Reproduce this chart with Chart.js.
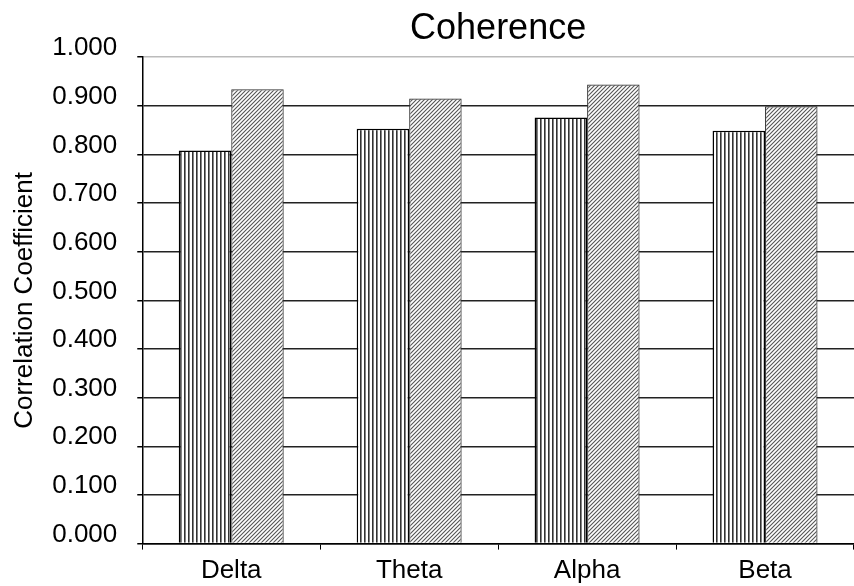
<!DOCTYPE html>
<html>
<head>
<meta charset="utf-8">
<script src="https://cdn.jsdelivr.net/npm/chart.js@4"></script>
<style>
  html, body { margin: 0; padding: 0; background: #fff; }
  #wrap { width: 854px; height: 586px; position: relative; }
</style>
</head>
<body>
<div id="wrap"><canvas id="coherenceChart"></canvas></div>
<script>
// data
const categories = ['Delta', 'Theta', 'Alpha', 'Beta'];
const seriesA = [0.808, 0.853, 0.876, 0.849];
const seriesB = [0.934, 0.915, 0.944, 0.899];
const yTickStep = 0.1;

const FONT = '"Liberation Sans", Arial, sans-serif';

// hatch fills
function makePattern(kind) {
  const c = document.createElement('canvas');
  const g = c.getContext('2d');
  c.width = 4; c.height = 4;
  g.fillStyle = '#fff';
  g.fillRect(0, 0, 4, 4);
  if (kind === 'vertical') {
    g.fillStyle = '#333';
    g.fillRect(0, 0, 1.6, 4);
  } else {
    g.strokeStyle = '#555';
    g.lineWidth = 1.1;
    g.beginPath();
    g.moveTo(-1, 5); g.lineTo(5, -1);
    g.moveTo(-1, 1); g.lineTo(1, -1);
    g.moveTo(3, 5); g.lineTo(5, 3);
    g.stroke();
  }
  return g.createPattern(c, 'repeat');
}

const ctx = document.getElementById('coherenceChart');
new Chart(ctx, {
  type: 'bar',
  data: {
    labels: categories,
    datasets: [{
      data: seriesA,
      backgroundColor: makePattern('vertical'),
      borderColor: '#000',
      borderWidth: 1.5,
      categoryPercentage: 0.59,
      barPercentage: 1
    }, {
      data: seriesB,
      backgroundColor: makePattern('diagonal'),
      borderColor: '#333',
      borderWidth: 1.2,
      categoryPercentage: 0.59,
      barPercentage: 1
    }]
  },
  options: {
    responsive: true,
    maintainAspectRatio: false,
    animation: false,
    layout: { padding: { left: 6, right: 0, top: 0, bottom: -7 } },
    plugins: {
      legend: { display: false },
      tooltip: { enabled: false },
      title: {
        display: true,
        fullSize: false,
        text: 'Coherence',
        color: '#000',
        font: { family: FONT, size: 36, weight: 'normal' },
        padding: { top: 7, bottom: 7 }
      }
    },
    scales: {
      x: {
        grid: { display: true, drawOnChartArea: false, drawTicks: true, tickLength: 6, offset: true, color: '#000' },
        border: { display: true, color: '#000', width: 1.5 },
        ticks: {
          color: '#000',
          padding: 10,
          font: { family: FONT, size: 26, lineHeight: 0.9 }
        }
      },
      y: {
        min: 0,
        max: 1,
        ticks: {
          stepSize: yTickStep,
          color: '#000',
          padding: 20,
          labelOffset: -9,
          font: { family: FONT, size: 26 },
          callback: v => Number(v).toFixed(3)
        },
        grid: {
          drawTicks: true,
          tickLength: 5,
          lineWidth: 1.5,
          tickColor: '#000',
          color: c => (c.tick && c.tick.value >= 1 ? '#bbb' : '#222')
        },
        border: { display: true, color: '#000', width: 1.5 },
        title: {
          display: true,
          text: 'Correlation Coefficient',
          color: '#000',
          padding: { top: 3, bottom: -8 },
          font: { family: FONT, size: 26 }
        }
      }
    }
  }
});
</script>
</body>
</html>
